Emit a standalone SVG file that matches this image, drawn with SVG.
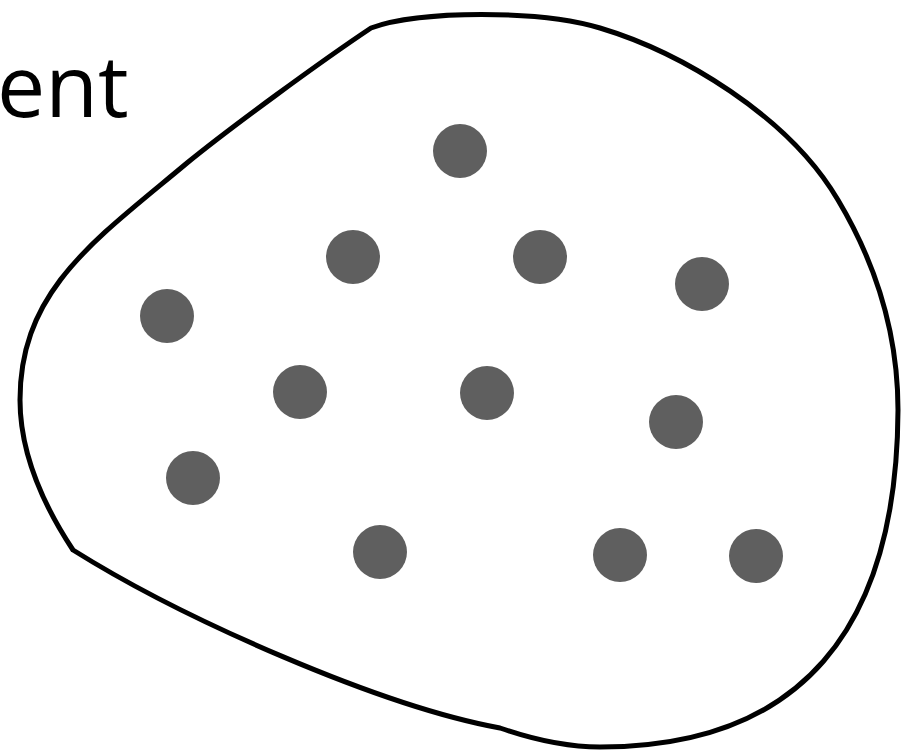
<svg xmlns="http://www.w3.org/2000/svg" width="901" height="751" viewBox="0 0 901 751">
<style>
.blob{fill:#ffffff;stroke:#000000;stroke-width:5;stroke-linejoin:round}
.dot{fill:#5f5f5f}
.lbl{font-family:"Open Sans","Noto Sans","DejaVu Sans",sans-serif;font-size:86px;fill:#000000}
</style>
<rect width="901" height="751" fill="#ffffff"/>
<g id="region">
<path class="blob" d="M371,28 C420,10 540,10 600,28 C680,52 788,115 838,200 C875,262 898,330 898,410 C897,630 800,747 600,747 C560,747 520,735 500,728 C380,706 183,619 73,550 C40,500 20,450 20,400 C20,290 95,240 187,163 C230,128 320,62 371,28 Z"/>
</g>
<g id="label"><text class="lbl" x="-3" y="117">ent</text></g>
<g id="points">
<circle id="p1" class="dot" cx="460" cy="151" r="27"/>
<circle id="p2" class="dot" cx="353" cy="257" r="27"/>
<circle id="p3" class="dot" cx="540" cy="257" r="27"/>
<circle id="p4" class="dot" cx="702" cy="284" r="27"/>
<circle id="p5" class="dot" cx="167" cy="316" r="27"/>
<circle id="p6" class="dot" cx="300" cy="392" r="27"/>
<circle id="p7" class="dot" cx="487" cy="393" r="27"/>
<circle id="p8" class="dot" cx="676" cy="422" r="27"/>
<circle id="p9" class="dot" cx="193" cy="478" r="27"/>
<circle id="p10" class="dot" cx="380" cy="552" r="27"/>
<circle id="p11" class="dot" cx="620" cy="555" r="27"/>
<circle id="p12" class="dot" cx="756" cy="556" r="27"/>
</g>
<g id="connectors"></g>
</svg>
